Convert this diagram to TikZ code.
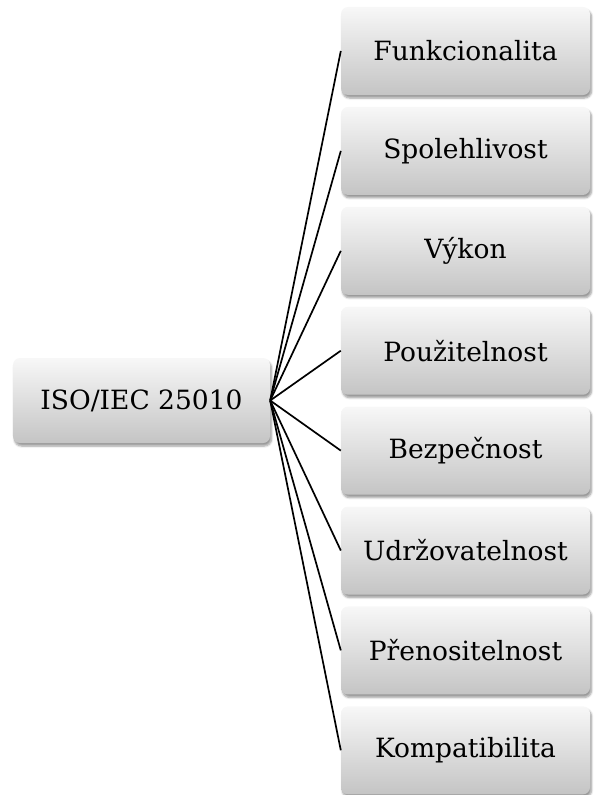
\documentclass[tikz,border=0pt]{standalone}
\usepackage{fontspec}
\setmainfont{DejaVu Serif}
\usetikzlibrary{shadows.blur}
\begin{document}
\begin{tikzpicture}[x=1bp,y=-1bp,
  box/.style={rounded corners=7bp, top color=black!3, bottom color=black!23,
    draw=none, inner sep=0pt, align=center,
    font=\fontsize{26.5bp}{30bp}\selectfont,
    blur shadow={shadow xshift=1.5bp, shadow yshift=-3bp, shadow blur steps=6, shadow opacity=40}},
  rbox/.style={box, minimum width=249bp, minimum height=88bp},
  conn/.style={line width=1.7bp, black}]
\useasboundingbox (0,0) rectangle (594,795);
\node[box, minimum width=257bp, minimum height=85bp] (iso) at (141.5,400.5) {ISO/IEC 25010};
\foreach \t [count=\i from 0] in {Funkcionalita,Spolehlivost,Výkon,Použitelnost,Bezpečnost,Udržovatelnost,Přenositelnost,Kompatibilita}{
  \node[rbox] (r\i) at (465.5,{51+99.9*\i}) {\t};
  \draw[conn] (iso.east) -- (r\i.west);
}
\end{tikzpicture}
\end{document}
